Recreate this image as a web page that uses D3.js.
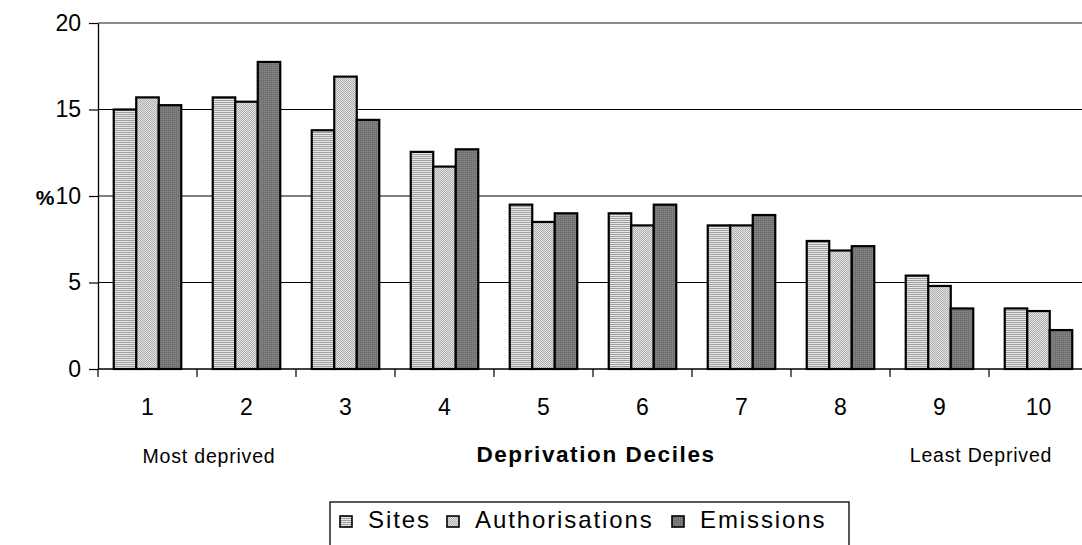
<!DOCTYPE html>
<html>
<head>
<meta charset="utf-8">
<script src="https://cdn.jsdelivr.net/npm/d3@7"></script>
<style>
  html, body { margin: 0; padding: 0; background: #fff; }
  svg { display: block; font-family: "Liberation Sans", Arial, sans-serif; }
</style>
</head>
<body>
<svg id="chart" width="1082" height="545"></svg>
<script>
// Share of sites, authorisations and emissions by deprivation decile (%)
const categories = ["1", "2", "3", "4", "5", "6", "7", "8", "9", "10"];
const seriesNames = ["Sites", "Authorisations", "Emissions"];
const sites          = [15.0, 15.7, 13.8, 12.55, 9.5, 9.0, 8.3, 7.4, 5.4, 3.5];
const authorisations = [15.7, 15.45, 16.9, 11.7, 8.5, 8.3, 8.3, 6.85, 4.8, 3.35];
const emissions      = [15.25, 17.75, 14.4, 12.7, 9.0, 9.5, 8.9, 7.1, 3.5, 2.25];
const yTicks = [0, 5, 10, 15, 20];

const seriesValues = [sites, authorisations, emissions];
const rows = categories.map((c, i) => ({
  cat: c,
  values: seriesNames.map((s, k) => ({ key: s, value: seriesValues[k][i] }))
}));

const svg = d3.select("#chart");
const plot = { left: 98, right: 1088, top: 23, bottom: 369 };

// Fill patterns for the three series
const defs = svg.append("defs");
const pSites = defs.append("pattern").attr("id", "pat-sites")
  .attr("patternUnits", "userSpaceOnUse").attr("width", 4).attr("height", 2);
pSites.append("rect").attr("width", 4).attr("height", 2).attr("fill", "#e6e6e6");
pSites.append("rect").attr("width", 4).attr("height", 1).attr("fill", "#a0a0a0");

const pAuth = defs.append("pattern").attr("id", "pat-auth")
  .attr("patternUnits", "userSpaceOnUse").attr("width", 2).attr("height", 2);
pAuth.append("rect").attr("width", 2).attr("height", 2).attr("fill", "#e2e2e2");
pAuth.append("rect").attr("width", 1).attr("height", 1).attr("fill", "#b0b0b0");
pAuth.append("rect").attr("x", 1).attr("y", 1).attr("width", 1).attr("height", 1).attr("fill", "#b0b0b0");

const pEm = defs.append("pattern").attr("id", "pat-em")
  .attr("patternUnits", "userSpaceOnUse").attr("width", 2).attr("height", 2);
pEm.append("rect").attr("width", 2).attr("height", 2).attr("fill", "#787878");
pEm.append("rect").attr("width", 1).attr("height", 1).attr("fill", "#6a6a6a");
pEm.append("rect").attr("x", 1).attr("y", 1).attr("width", 1).attr("height", 1).attr("fill", "#868686");

const fills = { "Sites": "url(#pat-sites)", "Authorisations": "url(#pat-auth)", "Emissions": "url(#pat-em)" };

// Scales
const x = d3.scaleBand().domain(categories).range([plot.left, plot.right]).padding(0);
const groupPad = x.bandwidth() * 0.159;
const xs = d3.scaleBand().domain(seriesNames).range([groupPad, x.bandwidth() - groupPad]).padding(0);
const y = d3.scaleLinear().domain([0, 20]).range([plot.bottom, plot.top]);

// Horizontal gridlines
svg.append("g").selectAll("line").data(yTicks.filter(t => t > 0)).join("line")
  .attr("x1", plot.left).attr("x2", 1082)
  .attr("y1", d => y(d)).attr("y2", d => y(d))
  .attr("stroke", d => d === 20 ? "#8a8a8a" : "#000")
  .attr("stroke-width", d => d === 20 ? 2 : 1.2);

// Bars
const groups = svg.append("g").selectAll("g").data(rows).join("g")
  .attr("transform", d => `translate(${x(d.cat)},0)`);
groups.selectAll("rect").data(d => d.values).join("rect")
  .attr("x", d => xs(d.key))
  .attr("width", xs.bandwidth())
  .attr("y", d => y(d.value))
  .attr("height", d => y(0) - y(d.value))
  .attr("fill", d => fills[d.key])
  .attr("stroke", "#000")
  .attr("stroke-width", 2.2);

// Y axis
const yAxis = svg.append("g").attr("transform", `translate(${plot.left},0)`)
  .call(d3.axisLeft(y).tickValues(yTicks).tickSize(9).tickSizeOuter(0).tickPadding(8));
yAxis.select(".domain").attr("stroke", "#000").attr("stroke-width", 1.3);
yAxis.selectAll(".tick line").attr("stroke", "#000").attr("stroke-width", 1.2);
yAxis.selectAll(".tick text")
  .attr("font-size", 23).attr("fill", "#000")
  .attr("font-family", "Liberation Sans, Arial, sans-serif");

// X axis: ticks on category boundaries, labels centred in each band
const xAxisG = svg.append("g").attr("transform", `translate(0,${plot.bottom})`);
xAxisG.append("line").attr("x1", plot.left).attr("x2", 1082)
  .attr("stroke", "#000").attr("stroke-width", 1.3);
const boundaries = categories.map(c => x(c)).concat([plot.right]);
xAxisG.selectAll("line.tk").data(boundaries).join("line").attr("class", "tk")
  .attr("x1", d => d).attr("x2", d => d).attr("y1", 0).attr("y2", 8)
  .attr("stroke", "#000").attr("stroke-width", 1.2);
xAxisG.selectAll("text").data(categories).join("text")
  .attr("x", d => x(d) + x.bandwidth() / 2).attr("y", 46)
  .attr("text-anchor", "middle").attr("font-size", 23)
  .text(d => d);

// Axis titles and annotations
svg.append("text").attr("x", 45).attr("y", 205).attr("text-anchor", "middle")
  .attr("font-size", 21).attr("font-weight", "bold").text("%");
svg.append("text").attr("x", 209).attr("y", 463).attr("text-anchor", "middle")
  .attr("font-size", 19.5).attr("letter-spacing", 0.8).text("Most deprived");
svg.append("text").attr("x", 596).attr("y", 462).attr("text-anchor", "middle")
  .attr("font-size", 22.5).attr("font-weight", "bold").attr("letter-spacing", 1.6)
  .text("Deprivation Deciles");
svg.append("text").attr("x", 981).attr("y", 462).attr("text-anchor", "middle")
  .attr("font-size", 19.5).attr("letter-spacing", 0.8).text("Least Deprived");

// Legend
const legend = svg.append("g");
legend.append("rect").attr("x", 330).attr("y", 502).attr("width", 519).attr("height", 48)
  .attr("fill", "#fff").attr("stroke", "#000").attr("stroke-width", 1.3);
const legendX = { "Sites": 340, "Authorisations": 447, "Emissions": 672 };
const items = legend.selectAll("g.item").data(seriesNames).join("g").attr("class", "item")
  .attr("transform", d => `translate(${legendX[d]},516)`);
items.append("rect").attr("width", 12).attr("height", 11)
  .attr("fill", d => fills[d]).attr("stroke", "#000").attr("stroke-width", 1.6);
items.append("text").attr("x", 28).attr("y", 11.5)
  .attr("font-size", 24).attr("letter-spacing", 1.9).text(d => d);
</script>
</body>
</html>
